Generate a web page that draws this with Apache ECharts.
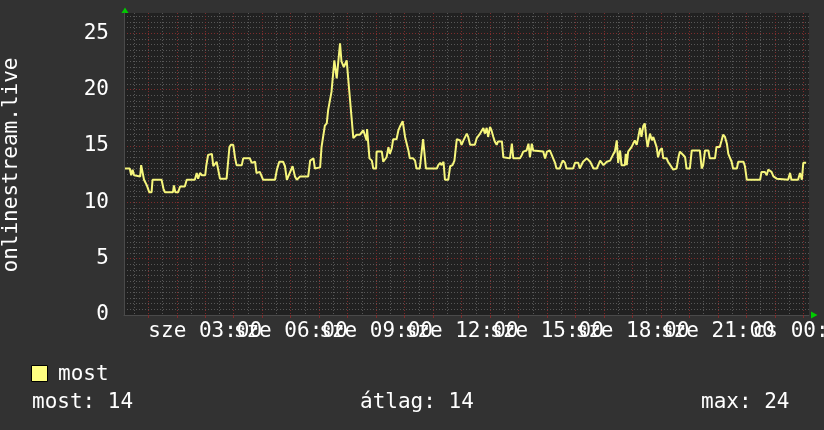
<!DOCTYPE html>
<html><head><meta charset="utf-8">
<script src="https://cdn.jsdelivr.net/npm/echarts@6/dist/echarts.min.js"></script>
<style>html,body{margin:0;padding:0;background:#323232;}#c{width:824px;height:430px;}</style>
</head><body><div id="c"></div>
<script>
// time of each sample, minutes since 00:00 (sze)
const minutes = [11,21,24,27,30,32,43,45,49,51,57,62,67,69,88,92,95,112,114,117,123,127,137,141,158,162,165,169,173,180,
182,186,190,194,197,204,208,211,225,231,234,239,243,246,257,260,274,278,281,285,288,295,302,327,331,336,344,348,352,355,
359,364,369,373,380,397,401,408,411,415,422,425,432,436,439,443,446,450,452,457,460,464,467,472,478,483,487,492,499,506,
513,517,520,521,526,531,534,540,541,552,555,559,562,566,569,573,576,583,587,590,596,597,601,604,608,611,618,622,625,632,
639,643,645,668,671,675,678,682,685,692,696,701,705,710,717,720,724,731,734,738,748,752,755,759,762,766,769,773,776,780,
783,787,790,794,797,805,808,812,822,826,829,843,847,850,857,861,864,868,871,875,892,896,900,906,910,913,917,920,927,931,
934,938,941,955,959,963,966,969,973,976,984,991,998,1005,1012,1019,1022,1026,1029,1033,1040,1043,1047,1050,1054,1057,1064,1066,1068,1071,
1078,1082,1085,1089,1092,1096,1099,1103,1106,1109,1112,1117,1121,1124,1127,1131,1134,1138,1142,1145,1152,1155,1159,1166,1173,1177,1180,1184,1187,1191,
1194,1201,1205,1222,1226,1229,1233,1240,1243,1254,1257,1264,1268,1271,1275,1279,1282,1286,1289,1292,1300,1303,1314,1317,1321,1349,1352,1356,1359,1363,
1366,1370,1373,1377,1380,1384,1387,1408,1412,1415,1429,1433,1437,1440,1446];
const values = [13.0,13.0,12.4,12.9,12.4,12.3,12.3,13.3,13.3,12.0,11.5,10.9,10.9,12.0,12.0,11.2,10.9,10.9,11.5,10.9,10.9,11.4,11.4,12.0,12.0,12.6,12.1,12.6,12.4,12.4,
13.2,14.2,14.3,14.3,13.2,13.6,13.5,12.1,12.1,14.9,15.1,15.1,13.9,13.3,13.3,13.9,13.9,13.5,13.6,13.6,12.6,12.7,12.0,12.0,12.9,13.6,13.6,13.2,12.0,12.3,
12.3,13.2,12.3,12.0,12.3,12.3,13.7,13.9,13.0,13.1,13.1,14.9,16.8,17.0,18.2,18.2,19.8,19.8,22.6,21.0,21.0,24.1,22.5,22.0,22.6,20.1,20.0,15.7,16.0,16.0,
16.4,16.4,15.5,16.5,13.9,13.7,13.0,13.0,14.5,14.5,13.6,13.7,14.0,14.9,14.3,14.8,15.6,15.6,16.4,16.7,17.2,17.3,15.8,15.7,14.6,13.9,13.9,13.7,13.0,13.0,
15.6,15.6,13.0,13.0,13.3,13.5,13.3,13.6,12.0,12.0,13.2,13.3,13.7,15.6,15.5,15.1,15.5,16.1,15.8,15.1,15.1,15.7,15.8,16.1,16.0,16.6,16.1,16.6,15.8,16.7,
16.4,15.8,15.4,15.1,15.4,15.4,14.0,13.9,13.9,15.2,13.9,13.9,14.2,14.5,14.6,15.2,14.0,15.2,14.6,14.5,14.5,13.9,14.5,14.6,14.2,13.9,13.5,13.0,13.0,13.5,
13.7,13.5,13.0,13.0,13.5,13.6,13.5,13.0,13.0,13.6,13.9,13.6,13.0,13.0,13.7,13.3,13.3,13.6,13.7,13.7,14.3,14.5,15.5,13.5,14.6,13.3,13.3,14.3,13.3,14.5,
14.9,14.9,15.5,15.1,15.7,16.6,15.8,16.8,17.0,15.8,14.9,16.1,15.5,15.8,15.8,14.9,14.0,14.6,14.8,13.9,13.9,13.6,13.6,12.9,13.0,14.0,14.5,14.6,14.2,14.0,
13.0,13.0,14.6,14.6,13.0,13.3,14.6,14.6,13.9,13.9,14.9,14.9,15.5,16.0,15.8,15.2,14.3,14.2,13.6,13.0,13.0,13.6,13.6,13.2,12.0,12.0,12.7,12.6,12.7,12.4,
12.9,13.0,12.7,12.3,12.3,12.1,12.0,12.0,12.6,12.0,12.0,12.6,12.0,13.5,13.5];

const seriesName = 'most';
const yTitle = 'onlinestream.live';
const yTickValues = [0, 5, 10, 15, 20, 25];
const xLabelMinutes = [180, 360, 540, 720, 900, 1080, 1260, 1440];
const xLabels = ['sze 03:00', 'sze 06:00', 'sze 09:00', 'sze 12:00', 'sze 15:00', 'sze 18:00', 'sze 21:00', 'cs 00:00'];
const statsTexts = ['most: 14', 'átlag: 14', 'max: 24'];

const X_MIN = 8.85, X_MAX = 1452, Y_MIN = 0, Y_MAX = 26.8;
const hourTicks = [], halfHourTicks = [], halfUnitTicks = [];
for (let m = 60; m <= 1440; m += 60) hourTicks.push(m);
for (let m = 30; m < X_MAX; m += 60) halfHourTicks.push(m);
for (let v = 0.5; v < Y_MAX; v += 0.5) halfUnitTicks.push(v);
// split labels into two groups so that neighbours on one axis never overlap
const labelsA = xLabelMinutes.filter((m, i) => i % 2 === 0);
const labelsB = xLabelMinutes.filter((m, i) => i % 2 === 1);

const FONT = 'DejaVu Sans Mono';
const RED = '#7e2c2c';
const GRAY = '#575757';
const dash = [1, 2];

function fmt(v) { const i = xLabelMinutes.indexOf(Math.round(v)); return i >= 0 ? xLabels[i] : ''; }
function labelAxis(vals) {
  return {
    type: 'value', min: X_MIN, max: X_MAX, position: 'bottom', offset: 0,
    axisLine: {show: false}, splitLine: {show: false},
    axisTick: {show: false, customValues: vals},
    axisLabel: {customValues: vals, color: '#ffffff', fontFamily: FONT, fontSize: 21, margin: 6,
      hideOverlap: false, showMinLabel: true, showMaxLabel: true,
      alignMinLabel: 'center', alignMaxLabel: 'center', formatter: fmt}
  };
}

const chart = echarts.init(document.getElementById('c'), null, {renderer: 'canvas'});
chart.setOption({
  animation: false,
  backgroundColor: '#323232',
  grid: {left: 124, right: 15, top: 13, bottom: 115, show: true, backgroundColor: '#212121', borderWidth: 0,
         containLabel: false, outerBoundsMode: 'none'},
  xAxis: [
    {
      type: 'value', min: X_MIN, max: X_MAX, position: 'bottom', z: 1,
      axisLine: {show: true, lineStyle: {color: '#4a4a4a', width: 1}},
      axisTick: {show: true, length: 3, customValues: hourTicks, lineStyle: {color: RED}},
      axisLabel: {show: false},
      splitLine: {show: true, lineStyle: {color: RED, type: dash, width: 1}}
    },
    {
      type: 'value', min: X_MIN, max: X_MAX, position: 'top', z: 0,
      axisLine: {show: false}, axisLabel: {show: false},
      axisTick: {show: false, customValues: halfHourTicks},
      splitLine: {show: true, lineStyle: {color: GRAY, type: dash, width: 1}}
    },
    labelAxis(labelsA),
    labelAxis(labelsB)
  ],
  yAxis: [
    {
      type: 'value', min: Y_MIN, max: Y_MAX, position: 'left', z: 1,
      axisLine: {show: true, lineStyle: {color: '#4a4a4a', width: 1}},
      axisTick: {show: false, customValues: yTickValues},
      axisLabel: {customValues: yTickValues, color: '#ffffff', fontFamily: FONT, fontSize: 21, margin: 15,
        showMinLabel: true, showMaxLabel: true},
      splitLine: {show: true, lineStyle: {color: RED, type: dash, width: 1}}
    },
    {
      type: 'value', min: Y_MIN, max: Y_MAX, position: 'right', z: 0,
      axisLine: {show: false}, axisLabel: {show: false},
      axisTick: {show: false, customValues: halfUnitTicks},
      splitLine: {show: true, lineStyle: {color: GRAY, type: dash, width: 1}}
    }
  ],
  series: [{
    name: seriesName, type: 'line', xAxisIndex: 0, yAxisIndex: 0, z: 5,
    showSymbol: false, symbol: 'none',
    lineStyle: {color: '#f6f67c', width: 2},
    data: minutes.map((m, i) => [m, values[i]])
  }],
  graphic: [
    {type: 'text', x: 12, y: 165, rotation: Math.PI / 2,
     style: {text: yTitle, fill: '#ffffff', font: '21px "DejaVu Sans Mono"', align: 'center', verticalAlign: 'middle'}},
    {type: 'polygon', shape: {points: [[125, 7.5], [121.5, 13], [128.5, 13]]}, style: {fill: '#00cc00'}},
    {type: 'polygon', shape: {points: [[817.5, 315], [811, 311.5], [811, 318.5]]}, style: {fill: '#00cc00'}},
    {type: 'rect', shape: {x: 31.5, y: 365.5, width: 16, height: 16}, style: {fill: '#ffff80', stroke: '#000000', lineWidth: 1}},
    {type: 'text', x: 58, y: 375, style: {text: seriesName, fill: '#ffffff', font: '21px "DejaVu Sans Mono"', verticalAlign: 'middle'}},
    {type: 'text', x: 32, y: 403, style: {text: statsTexts[0], fill: '#ffffff', font: '21px "DejaVu Sans Mono"', verticalAlign: 'middle'}},
    {type: 'text', x: 360, y: 403, style: {text: statsTexts[1], fill: '#ffffff', font: '21px "DejaVu Sans Mono"', verticalAlign: 'middle'}},
    {type: 'text', x: 701, y: 403, style: {text: statsTexts[2], fill: '#ffffff', font: '21px "DejaVu Sans Mono"', verticalAlign: 'middle'}}
  ]
});
</script>
</body></html>
